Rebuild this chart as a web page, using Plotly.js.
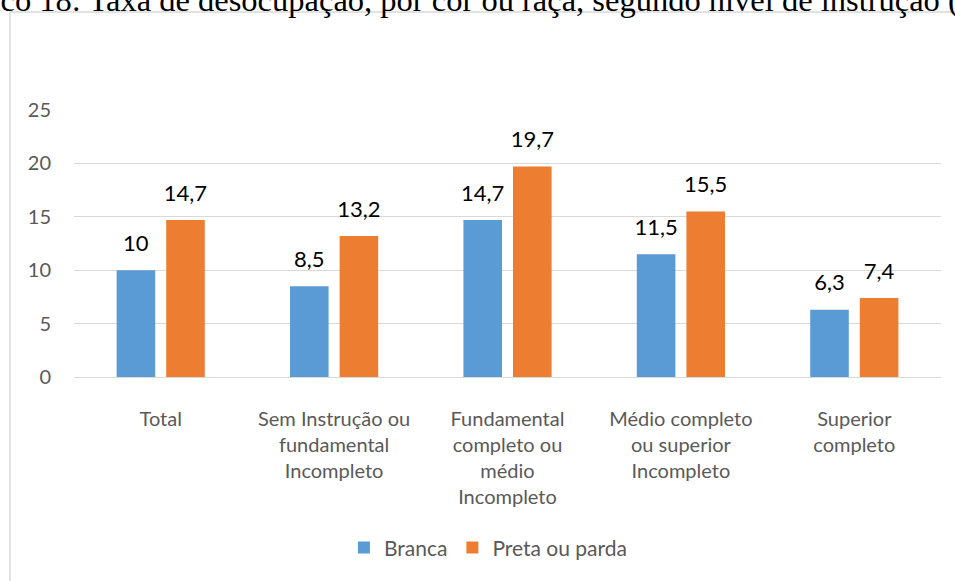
<!DOCTYPE html>
<html>
<head>
<meta charset="utf-8">
<script src="https://cdn.plot.ly/plotly-3.0.1.min.js"></script>
<style>html,body{margin:0;padding:0;background:#fff;}#chart{width:955px;height:581px;}</style>
</head>
<body>
<div id="chart"></div>
<script>
const categories = [
  "Total",
  "Sem Instrução ou<br>fundamental<br>Incompleto",
  "Fundamental<br>completo ou<br>médio<br>Incompleto",
  "Médio completo<br>ou superior<br>Incompleto",
  "Superior<br>completo"
];
const seriesNames = ["Branca", "Preta ou parda"];
const branca = [10, 8.5, 14.7, 11.5, 6.3];
const pretaParda = [14.7, 13.2, 19.7, 15.5, 7.4];
const titleText = "Gráfico 18: Taxa de desocupação, por cor ou raça, segundo nível de instrução (2017)";

const fmt = v => String(v).replace('.', ',');
const labelFont = {family: "Lato, 'Open Sans', sans-serif", size: 11, color: "#000000"};

function barTrace(name, vals, color) {
  return {
    type: 'bar', name: name, x: categories, y: vals,
    marker: {color: color},
    text: vals.map(fmt),
    texttemplate: '<span style="font-size:22px">%{text}</span><br> ',
    textposition: 'outside', textfont: labelFont, cliponaxis: false,
    constraintext: 'none',
    hoverinfo: 'x+y'
  };
}

const data = [
  barTrace(seriesNames[0], branca, '#5B9BD5'),
  barTrace(seriesNames[1], pretaParda, '#ED7D31')
];

const layout = {
  width: 955, height: 581,
  margin: {l: 74, r: 14, t: 110, b: 204},
  paper_bgcolor: '#ffffff', plot_bgcolor: '#ffffff',
  font: {family: "Lato, 'Open Sans', sans-serif", color: '#595959', size: 20},
  barmode: 'group', bargap: 0.428, bargroupgap: 0.222,
  showlegend: true,
  legend: {orientation: 'h', x: 0.478, xanchor: 'center', y: -0.64, yanchor: 'middle',
           font: {size: 21, color: '#595959'}, traceorder: 'normal', itemwidth: 30},
  xaxis: {type: 'category', showgrid: false, showline: false, ticks: '', zeroline: false,
          ticklabelstandoff: 28,
          tickfont: {size: 20, color: '#595959'}, fixedrange: true, automargin: false},
  yaxis: {range: [0, 25], dtick: 5, tick0: 0, showgrid: true, gridcolor: '#d9d9d9', gridwidth: 1,
          zeroline: true, zerolinecolor: '#d9d9d9', zerolinewidth: 1, showline: false, ticks: '',
          ticklabelstandoff: 22, tickfont: {size: 20, color: '#595959'}, fixedrange: true, automargin: false},
  shapes: [{type: 'rect', xref: 'paper', yref: 'paper', x0: -0.0739, x1: 1.2, y0: -1.2, y1: 1.367,
            line: {color: '#d9d9d9', width: 1.5}, fillcolor: 'rgba(0,0,0,0)', layer: 'below'}],
  annotations: [{text: titleText, xref: 'paper', yref: 'paper', x: -0.1663, xanchor: 'left',
                 y: 1.413, yanchor: 'middle', showarrow: false,
                 font: {family: "'Liberation Serif', 'Times New Roman', serif", size: 32.5, color: '#000000'}}]
};

Plotly.newPlot('chart', data, layout, {displayModeBar: false, staticPlot: true});
</script>
</body>
</html>
